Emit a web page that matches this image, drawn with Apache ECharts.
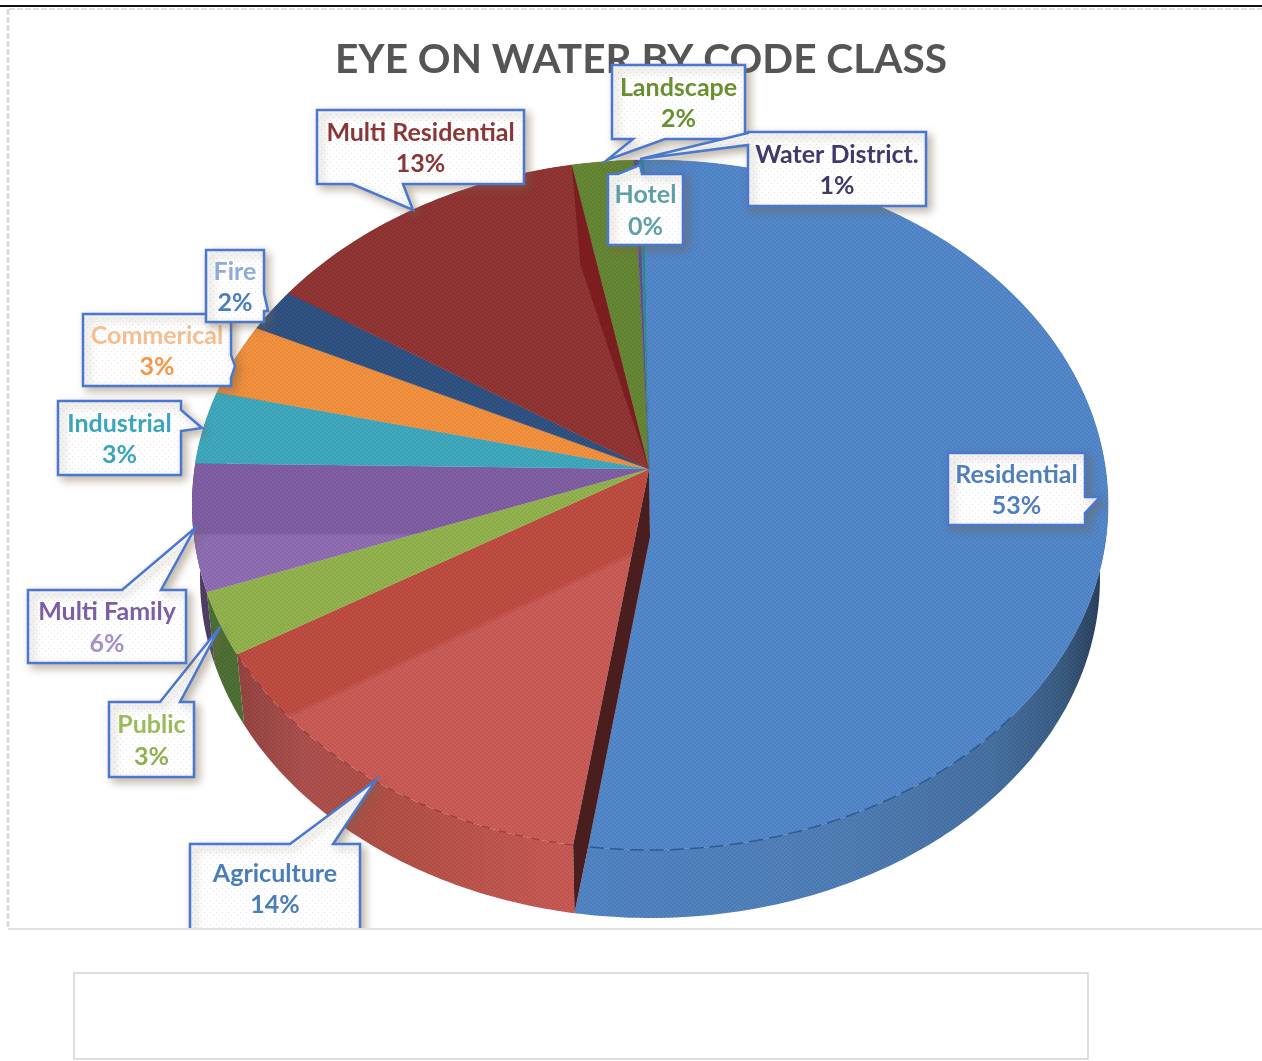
<!DOCTYPE html>
<html>
<head>
<meta charset="utf-8">
<style>
html,body{margin:0;padding:0;background:#fff;}
#chart{width:1262px;height:1061px;filter:blur(0.5px);}
</style>
<script src="https://cdn.jsdelivr.net/npm/echarts@6/dist/echarts.min.js"></script>
</head>
<body>
<div id="chart"></div>
<script>
// ---- data ----
var chartTitle = 'EYE ON WATER BY CODE CLASS';
var categories = ['Residential','Agriculture','Public','Multi Family','Industrial','Commerical','Fire','Multi Residential','Landscape','Water District.','Hotel'];
// share of the circle as drawn (percent, clockwise from the top)
var sliceShares = [52.9,15.2,3.05,6.0,3.36,3.28,1.94,11.75,2.17,0.17,0.17];
// percentages as printed in the callouts
var printedPercents = ['53%','14%','3%','6%','3%','3%','2%','13%','2%','1%','0%'];

// ---- layout and style ----
var START_DEG = -0.8;
var APEX = [649,469];
var TOP = {cx:650,cy:505,rx:458,ry:345};
var BASE = {cx:650,cy:578,rx:450,ry:340};
var DEPTH = 68, CUT_DEG = 1.9;

function grad(x,y,x2,y2,stops){
  return {type:'linear',x:x,y:y,x2:x2,y2:y2,global:true,
    colorStops:stops.map(function(s){return {offset:s[0],color:s[1]};})};
}
var topFills = [
  '#5085c8',
  grad(286,716-1.5,286+2.6,716+4,[[0,'#bd4a3f'],[1,'#c85955']]),
  '#8fb04b',
  grad(300,533,300,536,[[0,'#7d5ca2'],[1,'#8c6bb0']]),
  '#3da6ba','#f08e3c','#2e5080','#8e3232','#638532','#634c92','#2f8696'
];
var wallFills = [
  grad(573,0,1098,0,[[0,'#4f82c2'],[0.5,'#4d7cb4'],[0.8,'#446ea0'],[0.93,'#385a80'],[1,'#2a3f5c']]),
  grad(240,0,573,0,[[0,'#934240'],[0.2,'#aa4e4c'],[0.45,'#b04e44'],[1,'#c65753']]),
  '#4c6d32','#4c3c64','#1f6f80','#a05a20','#1c3050','#5a1c1c','#3f5a20','#3f3060','#1f5a66'
];
var callouts = [
  {box:[948,453,1085,525],side:'r',a:497,b:513,tip:[1100,497],name:'#4f7fbd',pct:'#4f7fbd'},
  {box:[190,844,360,945],side:'t',a:290,b:333,tip:[376,780],name:'#4a7ebb',pct:'#4a7ebb',textY:888},
  {box:[109,702,194,777],side:'t',a:160,b:180,tip:[220,627],name:'#9bbb59',pct:'#8fb04f'},
  {box:[28,590,186,663],side:'t',a:122,b:161,tip:[195,528],name:'#7c5ea5',pct:'#a591c4'},
  {box:[58,401,181,475],side:'r',a:410,b:431,tip:[202,428],name:'#3aa5bb',pct:'#3aa5bb'},
  {box:[83,314,231,386],side:'r',a:355,b:378,tip:[235,366],name:'#f6bd8f',pct:'#f79646'},
  {box:[206,250,264,322],side:'r',a:293,b:311,tip:[268,311],name:'#8fabdc',pct:'#4a7ebb'},
  {box:[317,110,524,184],side:'b',a:352,b:403,tip:[413,210],name:'#8a3636',pct:'#8a3636'},
  {box:[612,65,745,139],side:'b',a:633,b:665,tip:[607,160],name:'#6a8f2f',pct:'#6a8f2f',textY:102},
  {box:[748,132,926,206],side:'l',a:133,b:145,tip:[640,159],name:'#403a6a',pct:'#403a6a'},
  {box:[608,174,683,245],side:'t',a:618,b:642,tip:[640,165],name:'#5f9fa8',pct:'#5f9fa8'}
];

// ---- helpers ----
function makePattern(size,base,dots){
  var c=document.createElement('canvas');c.width=size;c.height=size;
  var g=c.getContext('2d');
  if(base){g.fillStyle=base;g.fillRect(0,0,size,size);}
  dots.forEach(function(d){g.fillStyle=d[2];g.fillRect(d[0],d[1],1,1);});
  return c;
}
var ditherPattern = makePattern(4,null,[[0,0,'rgba(0,0,0,0.10)'],[2,2,'rgba(0,0,0,0.06)'],[2,0,'rgba(255,255,255,0.07)'],[0,2,'rgba(255,255,255,0.07)']]);
var boxPattern = makePattern(6,'#ffffff',[[0,0,'#dfe3ee'],[3,3,'#e6e9f2']]);

var total = sliceShares.reduce(function(a,b){return a+b;},0);
var bounds = [START_DEG];
sliceShares.forEach(function(s,i){bounds.push(bounds[i]+s/total*360);});

function onEllipse(e,deg){
  var t=deg*Math.PI/180;
  return [e.cx+e.rx*Math.sin(t),e.cy-e.ry*Math.cos(t)];
}
function arc(e,d0,d1){
  var pts=[],n=Math.max(2,Math.ceil(Math.abs(d1-d0)));
  for(var k=0;k<=n;k++){pts.push(onEllipse(e,d0+(d1-d0)*k/n));}
  return pts;
}

function renderSlice(params,api){
  var i=api.value(0), d0=bounds[i], d1=bounds[i+1];
  var rimEnd = i===0 ? d1-CUT_DEG : d1;
  var topPts;
  if(i===0){
    topPts=[APEX].concat(arc(TOP,d0,rimEnd)).concat([[APEX[0]+1,APEX[1]+DEPTH]]);
  }else{
    topPts=[APEX].concat(arc(TOP,d0,d1));
  }
  var wallPts=arc(TOP,d0,rimEnd).concat(arc(BASE,d1,d0));
  var fill=topFills[i];
  var edge=typeof fill==='string'?fill:'rgba(0,0,0,0)';
  var children=[
    {type:'polygon',z2:1,shape:{points:wallPts},style:{fill:wallFills[i]}},
    {type:'polygon',z2:1,shape:{points:wallPts},style:{fill:{image:ditherPattern,repeat:'repeat'}}},
    {type:'polygon',z2:2,shape:{points:topPts},style:{fill:fill,stroke:edge,lineWidth:0.5}},
    {type:'polygon',z2:3,shape:{points:topPts},style:{fill:{image:ditherPattern,repeat:'repeat'}}}
  ];
  if(i===0){
    // inner wall exposed between Residential and Agriculture
    children.push({type:'polygon',z2:4,shape:{points:[APEX,[APEX[0]+1,APEX[1]+DEPTH],onEllipse(TOP,rimEnd),onEllipse(BASE,d1),onEllipse(TOP,d1)]},
      style:{fill:'#4a1d1f'}});
    children.push({type:'polyline',z2:5,shape:{points:arc(TOP,128,rimEnd)},
      style:{fill:null,stroke:'#2f5a92',lineWidth:1.5,lineDash:[14,6]}});
  }
  if(i===1){
    children.push({type:'polyline',z2:5,shape:{points:arc(TOP,d0,d1)},
      style:{fill:null,stroke:'#8f2f2f',lineWidth:1.2,lineDash:[8,9],opacity:0.8}});
  }
  if(i===7){
    // darker inner wall seen next to Landscape
    var far=onEllipse(TOP,d1-3);
    var kink=[APEX[0]+(far[0]-APEX[0])*0.68,APEX[1]+(far[1]-APEX[1])*0.68];
    children.push({type:'polygon',z2:4,shape:{points:[APEX,kink,onEllipse(TOP,d1)]},style:{fill:'#7c1d1f'}});
  }
  return {type:'group',children:children};
}

function calloutPoints(c){
  var b=c.box,x0=b[0],y0=b[1],x1=b[2],y1=b[3],p=[];
  p.push([x0,y0]);
  if(c.side==='t'){p.push([c.a,y0],c.tip,[c.b,y0]);}
  p.push([x1,y0]);
  if(c.side==='r'){p.push([x1,c.a],c.tip,[x1,c.b]);}
  p.push([x1,y1]);
  if(c.side==='b'){p.push([c.b,y1],c.tip,[c.a,y1]);}
  p.push([x0,y1]);
  if(c.side==='l'){p.push([x0,c.b],c.tip,[x0,c.a]);}
  return p;
}
function renderCallout(params,api){
  var i=api.value(0),c=callouts[i],b=c.box;
  var mx=(b[0]+b[2])/2, my=c.textY!==undefined?c.textY:(b[1]+b[3])/2;
  var font='bold 25px Lato, "Open Sans", sans-serif';
  var base=i*3+10;
  return {type:'group',children:[
    {type:'polygon',z2:base,shape:{points:calloutPoints(c)},style:{
      fill:{image:boxPattern,repeat:'repeat'},stroke:'#4a78d0',lineWidth:2.5,lineJoin:'miter',
      shadowBlur:8,shadowOffsetX:4,shadowOffsetY:4,shadowColor:'rgba(120,100,70,0.45)'}},
    {type:'text',z2:base+1,style:{text:categories[i],x:mx,y:my-14.5,fill:c.name,font:font,align:'center',verticalAlign:'middle'}},
    {type:'text',z2:base+1,style:{text:printedPercents[i],x:mx,y:my+17,fill:c.pct,font:font,align:'center',verticalAlign:'middle'}}
  ]};
}

var rows = categories.map(function(n,i){return {name:n,value:[i,sliceShares[i]]};});

var chart = echarts.init(document.getElementById('chart'),null,{renderer:'canvas'});
chart.setOption({
  backgroundColor:'#ffffff',
  animation:false,
  title:{text:chartTitle,left:636,top:34,textAlign:'center',
    textStyle:{color:'#555555',fontFamily:'Lato, "Open Sans", sans-serif',fontWeight:'bold',fontSize:40.6},z:1},
  tooltip:{show:false},
  series:[
    {type:'custom',name:'slices',coordinateSystem:'none',silent:true,z:3,renderItem:renderSlice,data:rows,encode:{value:1}},
    {type:'custom',name:'callouts',coordinateSystem:'none',silent:true,z:10,renderItem:renderCallout,data:rows,encode:{value:1}}
  ],
  graphic:[
    {type:'rect',z:100,shape:{x:100,y:929,width:400,height:42},style:{fill:'#fff'}},
    {type:'line',z:101,shape:{x1:0,y1:6,x2:1262,y2:6},style:{stroke:'#111',lineWidth:2}},
    {type:'line',z:101,shape:{x1:9,y1:9,x2:1262,y2:9},style:{stroke:'#e0e0e0',lineWidth:2,lineDash:[6,2]}},
    {type:'line',z:101,shape:{x1:8,y1:9,x2:8,y2:928},style:{stroke:'#dcdcdc',lineWidth:3,lineDash:[6,2]}},
    {type:'line',z:101,shape:{x1:8,y1:929,x2:1262,y2:929},style:{stroke:'#e2e2e2',lineWidth:2}},
    {type:'rect',z:101,shape:{x:74,y:973,width:1014,height:86},style:{fill:'#fff',stroke:'#d4d4d4',lineWidth:1.5}}
  ]
});
</script>
</body>
</html>
